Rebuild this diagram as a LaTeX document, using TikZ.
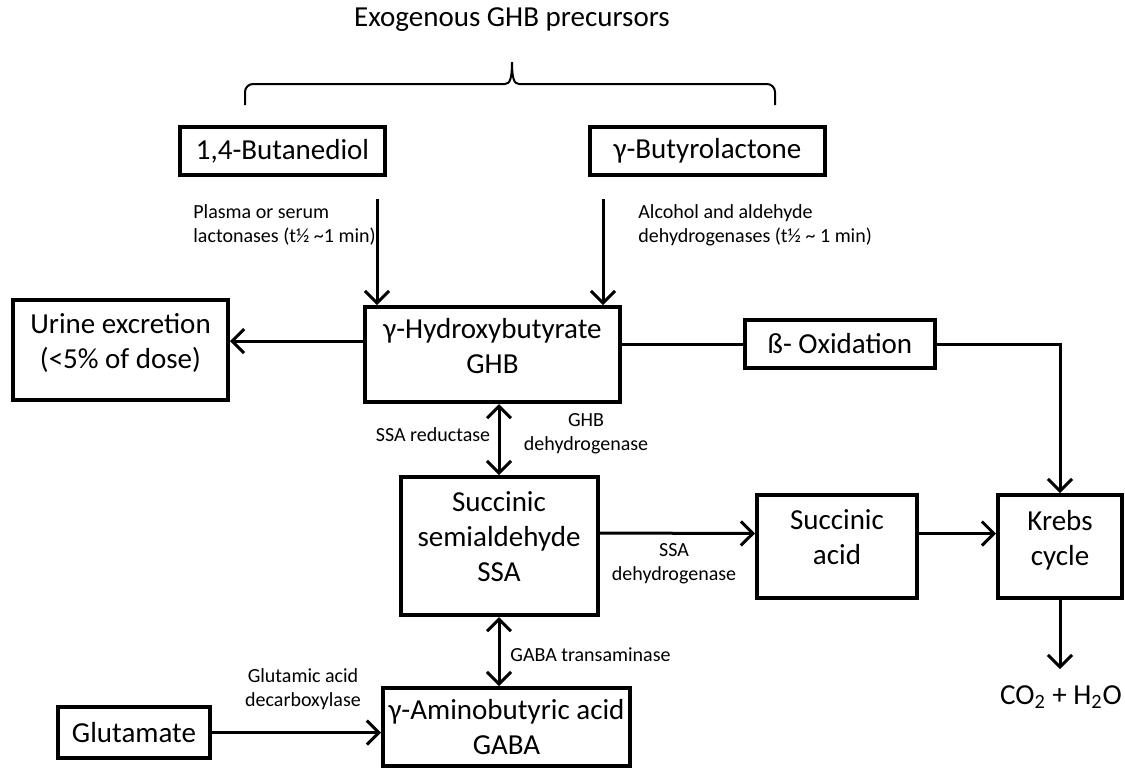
\documentclass[tikz,border=0pt]{standalone}
\usepackage{fontspec}
\setmainfont{Carlito}
\usetikzlibrary{arrows.meta}

\begin{document}
\begin{tikzpicture}[x=0.5pt,y=-0.5pt,
	main node/.style={draw,line width=2pt,inner sep=0pt,align=center,font=\fontsize{14.5}{17.5}\selectfont},
	cut node/.style={main node,text depth=9pt},
	enzyme/.style={inner sep=0pt,font=\fontsize{10}{12}\selectfont},
	arrow/.style={line width=1.5pt,-{Straight Barb[length=6pt,width=12pt]}},
	both/.style={line width=1.5pt,{Straight Barb[length=6pt,width=12pt]}-{Straight Barb[length=6pt,width=12pt]}}]
	\useasboundingbox (0,0) rectangle (1125,768);
	% precursors
	\node[font=\fontsize{14.5}{17.5}\selectfont] (exo) at (512,20) {Exogenous GHB precursors};
	\draw[line width=1pt,rounded corners=4pt] (245,105) -- (245,84) -- (505,84);
	\draw[line width=1pt] (505,84) .. controls (510,84) and (512,78) .. (512,62) .. controls (512,78) and (514,84) .. (519,84);
	\draw[line width=1pt,rounded corners=4pt] (519,84) -- (775,84) -- (775,105);
	\node[main node,minimum width=102.5pt,minimum height=24pt] (bd) at (282.5,151) {1,4-Butanediol};
	\node[main node,minimum width=117.5pt,minimum height=24pt] (gbl) at (707.5,151) {γ-Butyrolactone};
	% GHB row
	\node[cut node,minimum width=127.5pt,minimum height=47.5pt] (ghb) at (492.5,354.5) {γ-Hydroxybutyrate\\GHB};
	\node[cut node,minimum width=107.5pt,minimum height=50pt] (urine) at (120.5,350) {Urine excretion\\(<5\% of dose)};
	\node[main node,minimum width=95pt,minimum height=24pt] (ox) at (840,344) {ß- Oxidation};
	% SSA row
	\node[cut node,minimum width=98.5pt,minimum height=69pt] (ssa) at (499,546) {Succinic\\semialdehyde\\SSA};
	\node[cut node,minimum width=80pt,minimum height=51.5pt] (sa) at (837,546.5) {Succinic\\acid};
	\node[cut node,minimum width=62pt,minimum height=51.5pt] (krebs) at (1060,546.5) {Krebs\\cycle};
	\node[font=\fontsize{14.5}{17.5}\selectfont,inner sep=0pt] (co2) at (1061,697) {CO\textsubscript{2} + H\textsubscript{2}O};
	% GABA row
	\node[main node,minimum width=123.5pt,minimum height=39pt] (gaba) at (506.5,727) {γ-Aminobutyric acid\\GABA};
	\node[main node,minimum width=76pt,minimum height=25.5pt] (glu) at (134,732.5) {Glutamate};
	% enzymes
	\node[enzyme,anchor=west,align=left] (lact) at (193,225) {Plasma or serum\\lactonases (t½ \textasciitilde1 min)};
	\node[enzyme,anchor=west,align=left] (adh) at (638,225) {Alcohol and aldehyde\\dehydrogenases (t½ \textasciitilde\ 1 min)};
	\node[enzyme] (ssar) at (433,435) {SSA reductase};
	\node[enzyme,align=center] (ghbd) at (586,434) {GHB\\dehydrogenase};
	\node[enzyme,align=center] (ssad) at (674,564) {SSA\\dehydrogenase};
	\node[enzyme,anchor=west] (gabat) at (510,655) {GABA transaminase};
	\node[enzyme,align=center] (gad) at (303,689) {Glutamic acid\\decarboxylase};
	% connections
	\draw[arrow,shorten <=11pt] ([xshift=-5pt]bd.south east) -- ([xshift=-5pt]bd.south east |- ghb.north);
	\draw[arrow,shorten <=11pt] ([xshift=7.5pt]gbl.south west) -- ([xshift=7.5pt]gbl.south west |- ghb.north);
	\draw[arrow] ([yshift=6.75pt]ghb.west) -- ([yshift=6.75pt]ghb.west -| urine.east);
	\draw[line width=1.5pt] (ox.west -| ghb.east) -- (ox.west);
	\draw[arrow] (ox.east) -| (krebs.north);
	\draw[both] (ghb.south -| ssa.north) -- (ssa.north);
	\draw[arrow] ([yshift=6.5pt]ssa.east) -- ([yshift=6.5pt]sa.west);
	\draw[arrow] ([yshift=6.5pt]sa.east) -- ([yshift=6.5pt]krebs.west);
	\draw[arrow,shorten >=8pt] (krebs.south) -- (krebs.south |- co2.north);
	\draw[both] (ssa.south) -- (ssa.south |- gaba.north);
	\draw[arrow] (glu.east) -- (glu.east -| gaba.west);
\end{tikzpicture}
\end{document}
